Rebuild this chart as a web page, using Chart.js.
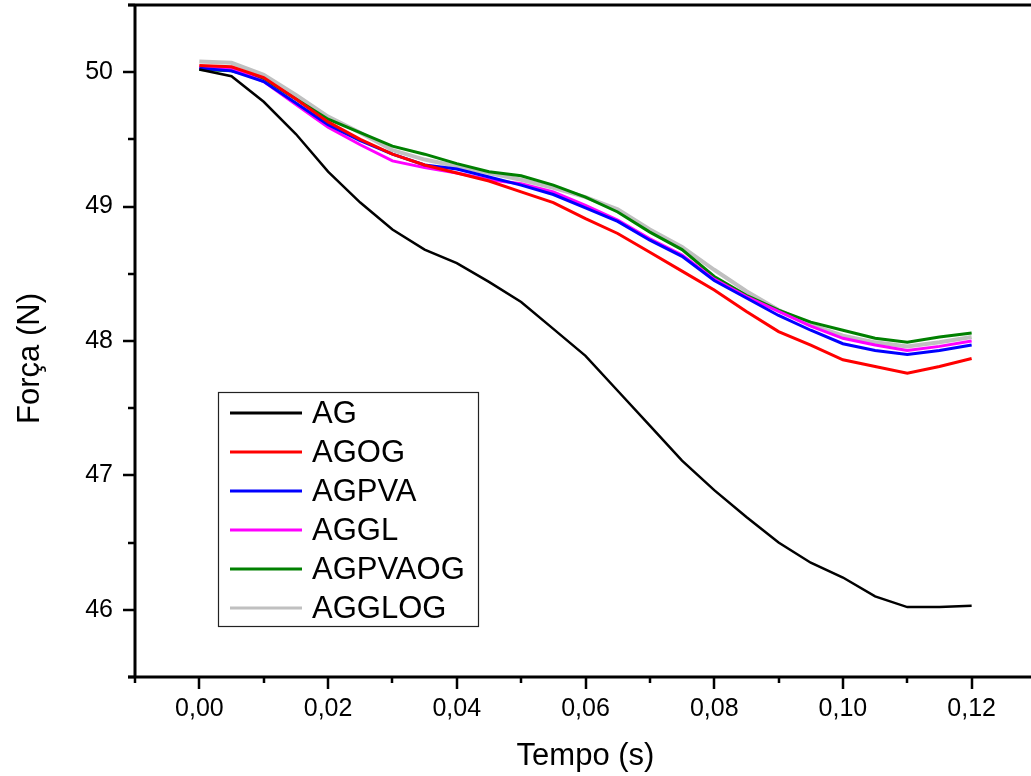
<!DOCTYPE html>
<html>
<head>
<meta charset="utf-8">
<script src="https://cdn.jsdelivr.net/npm/chart.js@4/dist/chart.umd.min.js"></script>
<style>
html, body { margin: 0; padding: 0; background: #fff; overflow: hidden; width: 1031px; height: 776px; }
canvas { display: block; }
</style>
</head>
<body>
<canvas id="grafico" width="1040" height="776"></canvas>
<script>
// tempo (s) e força (N)
const tempo = [0, 0.005, 0.01, 0.015, 0.02, 0.025, 0.03, 0.035, 0.04, 0.045, 0.05, 0.055, 0.06,
               0.065, 0.07, 0.075, 0.08, 0.085, 0.09, 0.095, 0.1, 0.105, 0.11, 0.115, 0.12];

const AG      = [50.02, 49.97, 49.78, 49.54, 49.26, 49.03, 48.83, 48.68, 48.58, 48.44, 48.29, 48.09, 47.89,
                 47.63, 47.37, 47.11, 46.89, 46.69, 46.50, 46.35, 46.24, 46.10, 46.02, 46.02, 46.03];
const AGOG    = [50.05, 50.04, 49.96, 49.80, 49.63, 49.50, 49.39, 49.31, 49.25, 49.19, 49.11, 49.03, 48.91,
                 48.80, 48.66, 48.52, 48.38, 48.22, 48.07, 47.97, 47.86, 47.81, 47.76, 47.81, 47.87];
const AGPVA   = [50.03, 50.01, 49.93, 49.77, 49.61, 49.49, 49.39, 49.31, 49.28, 49.22, 49.16, 49.09, 48.99,
                 48.89, 48.75, 48.63, 48.45, 48.32, 48.19, 48.08, 47.98, 47.93, 47.90, 47.93, 47.97];
const AGGL    = [50.04, 50.03, 49.93, 49.76, 49.59, 49.46, 49.34, 49.29, 49.25, 49.20, 49.17, 49.11, 49.01,
                 48.90, 48.76, 48.64, 48.46, 48.33, 48.22, 48.11, 48.02, 47.97, 47.93, 47.96, 48.00];
const AGPVAOG = [50.02, 50.01, 49.95, 49.80, 49.65, 49.55, 49.45, 49.39, 49.32, 49.26, 49.23, 49.16, 49.07,
                 48.96, 48.81, 48.68, 48.48, 48.34, 48.23, 48.14, 48.08, 48.02, 47.99, 48.03, 48.06];
const AGGLOG  = [50.08, 50.07, 49.98, 49.83, 49.67, 49.55, 49.42, 49.35, 49.30, 49.25, 49.20, 49.14, 49.07,
                 48.98, 48.83, 48.70, 48.53, 48.37, 48.23, 48.12, 48.04, 47.99, 47.96, 47.99, 48.03];

const nomes = ['AG', 'AGOG', 'AGPVA', 'AGGL', 'AGPVAOG', 'AGGLOG'];
const series = [AG, AGOG, AGPVA, AGGL, AGPVAOG, AGGLOG];
const cores = ['#000000', '#ff0000', '#0000ff', '#ff00ff', '#008000', '#c0c0c0'];

const xTicks = [0, 0.02, 0.04, 0.06, 0.08, 0.10, 0.12];
const yTicks = [46, 47, 48, 49, 50];
const xMenor = 0.01;
const yMenor = 0.5;

const fonte = 'Liberation Sans, Arial, sans-serif';

function ehMaior(lista, v) {
    return lista.some(t => Math.abs(t - v) < 1e-6);
}

// moldura: eixos, linha de cima, marcas maiores/menores e título do eixo y
const moldura = {
    id: 'moldura',
    afterDraw(chart) {
        const { ctx, chartArea: a, scales: { x, y } } = chart;
        ctx.save();
        ctx.strokeStyle = '#000';
        ctx.lineWidth = 3;
        ctx.lineCap = 'butt';
        ctx.beginPath();
        ctx.moveTo(a.left - 7, a.top); ctx.lineTo(a.right, a.top);
        ctx.moveTo(a.left - 7, a.bottom); ctx.lineTo(a.right, a.bottom);
        ctx.moveTo(a.left, a.top - 1.5); ctx.lineTo(a.left, a.bottom + 1.5);
        ctx.stroke();

        ctx.lineWidth = 2.5;
        ctx.beginPath();
        for (let v = x.min; v <= x.max + 1e-9; v += xMenor) {
            const px = Math.round(x.getPixelForValue(v));
            const len = ehMaior(xTicks, v) ? 12 : 6;
            ctx.moveTo(px, a.bottom); ctx.lineTo(px, a.bottom + len);
        }
        for (let v = y.min; v <= y.max + 1e-9; v += yMenor) {
            const py = Math.round(y.getPixelForValue(v));
            const len = ehMaior(yTicks, v) ? 12 : 7;
            ctx.moveTo(a.left, py); ctx.lineTo(a.left - len, py);
        }
        ctx.stroke();

        // título do eixo y, um pouco abaixo do centro como no original
        ctx.translate(30, y.getPixelForValue(47.87));
        ctx.rotate(-Math.PI / 2);
        ctx.font = '31px ' + fonte;
        ctx.fillStyle = '#000';
        ctx.textAlign = 'center';
        ctx.textBaseline = 'middle';
        ctx.fillText('Força (N)', 0, 0);
        ctx.restore();
    }
};

// legenda dentro do gráfico, como no original
const legenda = {
    id: 'legenda',
    afterDraw(chart) {
        const ctx = chart.ctx;
        const bx = 218, by = 392, bw = 260, bh = 234;
        ctx.save();
        ctx.fillStyle = '#fff';
        ctx.fillRect(bx, by, bw, bh);
        ctx.strokeStyle = '#222';
        ctx.lineWidth = 1.2;
        ctx.strokeRect(bx + 0.5, by + 0.5, bw, bh);
        ctx.font = '31px ' + fonte;
        ctx.textBaseline = 'middle';
        ctx.textAlign = 'left';
        chart.data.datasets.forEach((ds, i) => {
            const cy = 413 + i * 39;
            ctx.strokeStyle = ds.borderColor;
            ctx.lineWidth = 3;
            ctx.beginPath();
            ctx.moveTo(230, cy); ctx.lineTo(302, cy);
            ctx.stroke();
            ctx.fillStyle = '#000';
            ctx.fillText(ds.label, 312, cy + 1);
        });
        ctx.restore();
    }
};

const datasets = series.map((s, i) => ({
    label: nomes[i],
    data: s.map((v, j) => ({ x: tempo[j], y: v })),
    borderColor: cores[i],
    backgroundColor: cores[i],
    borderWidth: i === 5 ? 4 : (i === 0 ? 2.5 : 3),
    pointRadius: 0,
    tension: 0,
    fill: false
}));

new Chart(document.getElementById('grafico'), {
    type: 'line',
    data: { datasets },
    options: {
        responsive: false,
        animation: false,
        layout: { padding: { top: 5, right: 4, left: 0, bottom: 0 } },
        plugins: { legend: { display: false }, tooltip: { enabled: false } },
        scales: {
            x: {
                type: 'linear',
                min: -0.01,
                max: 0.13,
                grid: { display: false, drawTicks: false },
                border: { display: false },
                afterBuildTicks: s => { s.ticks = xTicks.map(v => ({ value: v })); },
                afterFit: s => { s.height = 99; s.paddingLeft = 0; s.paddingRight = 0; },
                ticks: {
                    padding: 17,
                    color: '#000',
                    font: { family: fonte, size: 25 },
                    maxRotation: 0,
                    callback: v => v.toFixed(2).replace('.', ',')
                },
                title: {
                    display: true,
                    text: 'Tempo (s)',
                    color: '#000',
                    font: { family: fonte, size: 31 },
                    padding: { top: 0, bottom: 1 }
                }
            },
            y: {
                min: 45.5,
                max: 50.5,
                grid: { display: false, drawTicks: false },
                border: { display: false },
                afterBuildTicks: s => { s.ticks = yTicks.map(v => ({ value: v })); },
                afterFit: s => { s.width = 135; s.paddingTop = 0; s.paddingBottom = 0; },
                ticks: {
                    padding: 22,
                    color: '#000',
                    font: { family: fonte, size: 25 },
                    callback: v => String(v)
                },
                title: { display: false }
            }
        }
    },
    plugins: [moldura, legenda]
});
</script>
</body>
</html>
